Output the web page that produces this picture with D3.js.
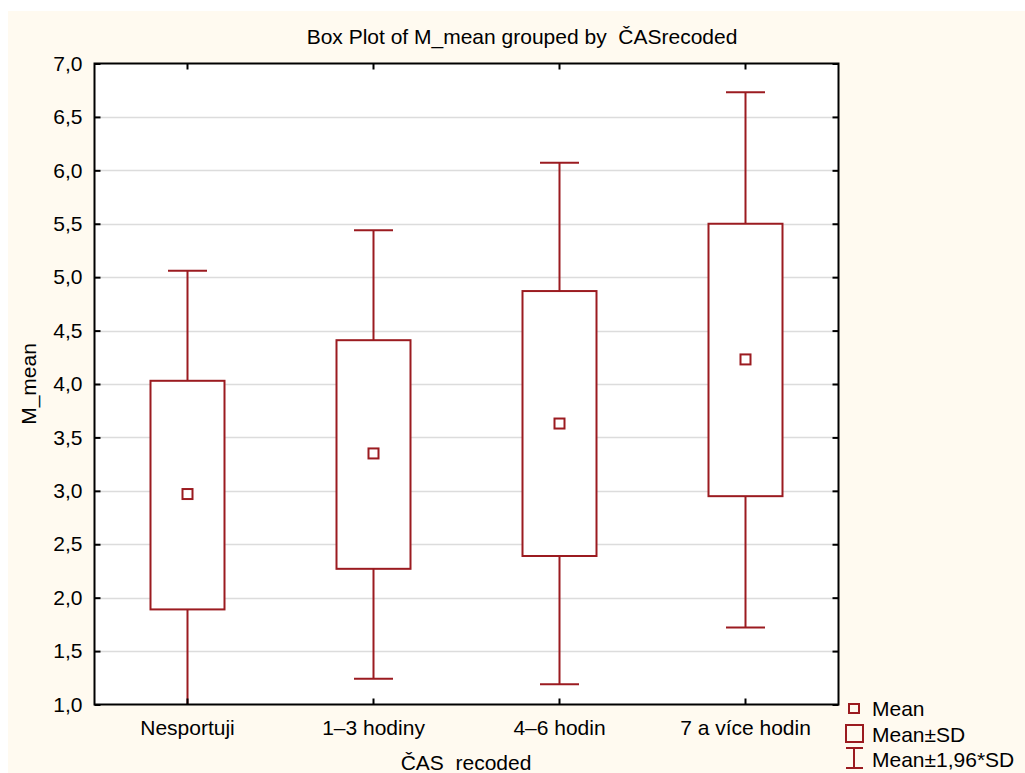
<!DOCTYPE html>
<html>
<head>
<meta charset="utf-8">
<script src="https://cdn.jsdelivr.net/npm/d3@7"></script>
<style>
  body { margin: 0; background: #ffffff; }
  svg text { font-family: "Liberation Sans", Arial, sans-serif; fill: #000; }
</style>
</head>
<body>
<svg id="chart" width="1025" height="773"></svg>
<script>
// Box plot of M_mean grouped by CAS recoded (Mean, Mean±SD, Mean±1,96*SD)

var categories = ["Nesportuji", "1–3 hodiny", "4–6 hodin", "7 a více hodin"];
var means      = [2.97, 3.35, 3.63, 4.23];
var sdLow      = [1.89, 2.27, 2.39, 2.95];
var sdHigh     = [4.03, 4.41, 4.87, 5.50];
var ciLow      = [0.87, 1.24, 1.19, 1.72];
var ciHigh     = [5.06, 5.44, 6.07, 6.73];
var yTicks     = [1.0, 1.5, 2.0, 2.5, 3.0, 3.5, 4.0, 4.5, 5.0, 5.5, 6.0, 6.5, 7.0];

var RED = "#9b1b20";
var svg = d3.select("#chart");

// cream panel
svg.append("rect")
  .attr("x", 8).attr("y", 11)
  .attr("width", 1017).attr("height", 762)
  .attr("fill", "#fffaf0");

var plot = { left: 94.5, top: 63.5, right: 838.5, bottom: 704.5 };

var x = d3.scaleBand()
  .domain(categories)
  .range([plot.left, plot.right])
  .padding(0);

var y = d3.scaleLinear()
  .domain([1, 7])
  .range([plot.bottom, plot.top]);

var fmt = function (d) { return d3.format(".1f")(d).replace(".", ","); };

svg.append("rect")
  .attr("x", plot.left).attr("y", plot.top)
  .attr("width", plot.right - plot.left)
  .attr("height", plot.bottom - plot.top)
  .attr("fill", "#ffffff");

// grid lines
svg.append("g")
  .selectAll("line")
  .data(yTicks.slice(1, -1))
  .enter().append("line")
  .attr("x1", plot.left).attr("x2", plot.right)
  .attr("y1", function (d) { return Math.round(y(d)) + 0.5; })
  .attr("y2", function (d) { return Math.round(y(d)) + 0.5; })
  .attr("stroke", "#dcdcdc")
  .attr("stroke-width", 1.5);

// boxes and whiskers, clipped to the plot frame
svg.append("clipPath").attr("id", "clip")
  .append("rect")
  .attr("x", plot.left).attr("y", plot.top)
  .attr("width", plot.right - plot.left)
  .attr("height", plot.bottom - plot.top);

var boxW = 74, capW = 39, markW = 10;
var groups = svg.append("g")
  .attr("clip-path", "url(#clip)")
  .selectAll("g")
  .data(categories)
  .enter().append("g")
  .attr("transform", function (d) {
    return "translate(" + (x(d) + x.bandwidth() / 2) + ",0)";
  });

groups.append("line")
  .attr("x1", 0).attr("x2", 0)
  .attr("y1", function (d, i) { return y(ciHigh[i]); })
  .attr("y2", function (d, i) { return y(sdHigh[i]); })
  .attr("stroke", RED).attr("stroke-width", 2);

groups.append("line")
  .attr("x1", 0).attr("x2", 0)
  .attr("y1", function (d, i) { return y(sdLow[i]); })
  .attr("y2", function (d, i) { return y(ciLow[i]); })
  .attr("stroke", RED).attr("stroke-width", 2);

groups.append("line")
  .attr("x1", -capW / 2).attr("x2", capW / 2)
  .attr("y1", function (d, i) { return y(ciHigh[i]); })
  .attr("y2", function (d, i) { return y(ciHigh[i]); })
  .attr("stroke", RED).attr("stroke-width", 2);

groups.append("line")
  .attr("x1", -capW / 2).attr("x2", capW / 2)
  .attr("y1", function (d, i) { return y(ciLow[i]); })
  .attr("y2", function (d, i) { return y(ciLow[i]); })
  .attr("stroke", RED).attr("stroke-width", 2);

groups.append("rect")
  .attr("x", -boxW / 2)
  .attr("y", function (d, i) { return y(sdHigh[i]); })
  .attr("width", boxW)
  .attr("height", function (d, i) { return y(sdLow[i]) - y(sdHigh[i]); })
  .attr("fill", "#ffffff")
  .attr("stroke", RED).attr("stroke-width", 2);

groups.append("rect")
  .attr("x", -markW / 2)
  .attr("y", function (d, i) { return y(means[i]) - markW / 2; })
  .attr("width", markW).attr("height", markW)
  .attr("fill", "#ffffff")
  .attr("stroke", RED).attr("stroke-width", 2);

// frame and inward ticks on all four sides
var frame = svg.append("g");
frame.append("rect")
  .attr("x", plot.left).attr("y", plot.top)
  .attr("width", plot.right - plot.left)
  .attr("height", plot.bottom - plot.top)
  .attr("fill", "none")
  .attr("stroke", "#000").attr("stroke-width", 2);

var yLeft = d3.axisLeft(y).tickValues(yTicks).tickFormat(fmt).tickSizeInner(-6).tickSizeOuter(0).tickPadding(12);
var yRight = d3.axisRight(y).tickValues(yTicks).tickFormat("").tickSizeInner(-6).tickSizeOuter(0);
var xBottom = d3.axisBottom(x).tickSizeInner(-6).tickSizeOuter(0).tickPadding(16);
var xTop = d3.axisTop(x).tickFormat("").tickSizeInner(-6).tickSizeOuter(0);

function styleAxis(g) {
  g.select(".domain").remove();
  g.selectAll(".tick line").attr("stroke", "#000").attr("stroke-width", 2);
  g.selectAll(".tick text")
    .style("font-family", "'Liberation Sans', Arial, sans-serif")
    .style("font-size", "21px").attr("fill", "#000");
}

svg.append("g").attr("transform", "translate(" + plot.left + ",0)").call(yLeft).call(styleAxis);
svg.append("g").attr("transform", "translate(" + plot.right + ",0)").call(yRight).call(styleAxis);
svg.append("g").attr("transform", "translate(0," + plot.bottom + ")").call(xBottom).call(styleAxis);
svg.append("g").attr("transform", "translate(0," + plot.top + ")").call(xTop).call(styleAxis);

// titles
svg.append("text")
  .attr("x", 522).attr("y", 44)
  .attr("text-anchor", "middle")
  .style("font-size", "21px")
  .attr("xml:space", "preserve")
  .text("Box Plot of M_mean grouped by  ČASrecoded");

svg.append("text")
  .attr("x", 466).attr("y", 770)
  .attr("text-anchor", "middle")
  .style("font-size", "21px")
  .attr("xml:space", "preserve")
  .text("ČAS  recoded");

svg.append("text")
  .attr("transform", "translate(36," + ((plot.top + plot.bottom) / 2) + ") rotate(-90)")
  .attr("text-anchor", "middle")
  .style("font-size", "21px")
  .text("M_mean");

// legend
var lg = svg.append("g").attr("transform", "translate(854,0)");
lg.append("rect")
  .attr("x", -5).attr("y", 704).attr("width", 10).attr("height", 9)
  .attr("fill", "none").attr("stroke", RED).attr("stroke-width", 2);
lg.append("rect")
  .attr("x", -8).attr("y", 725).attr("width", 17).attr("height", 17)
  .attr("fill", "none").attr("stroke", RED).attr("stroke-width", 2);
lg.append("line").attr("x1", 0).attr("x2", 0).attr("y1", 748).attr("y2", 768)
  .attr("stroke", RED).attr("stroke-width", 2);
lg.append("line").attr("x1", -8).attr("x2", 9).attr("y1", 748).attr("y2", 748)
  .attr("stroke", RED).attr("stroke-width", 2);
lg.append("line").attr("x1", -8).attr("x2", 9).attr("y1", 768).attr("y2", 768)
  .attr("stroke", RED).attr("stroke-width", 2);

var legendLabels = ["Mean", "Mean±SD", "Mean±1,96*SD"];
lg.selectAll("text.lab")
  .data(legendLabels)
  .enter().append("text")
  .attr("class", "lab")
  .attr("x", 18)
  .attr("y", function (d, i) { return 716 + i * 25.5; })
  .style("font-size", "21px")
  .text(function (d) { return d; });
</script>
</body>
</html>
